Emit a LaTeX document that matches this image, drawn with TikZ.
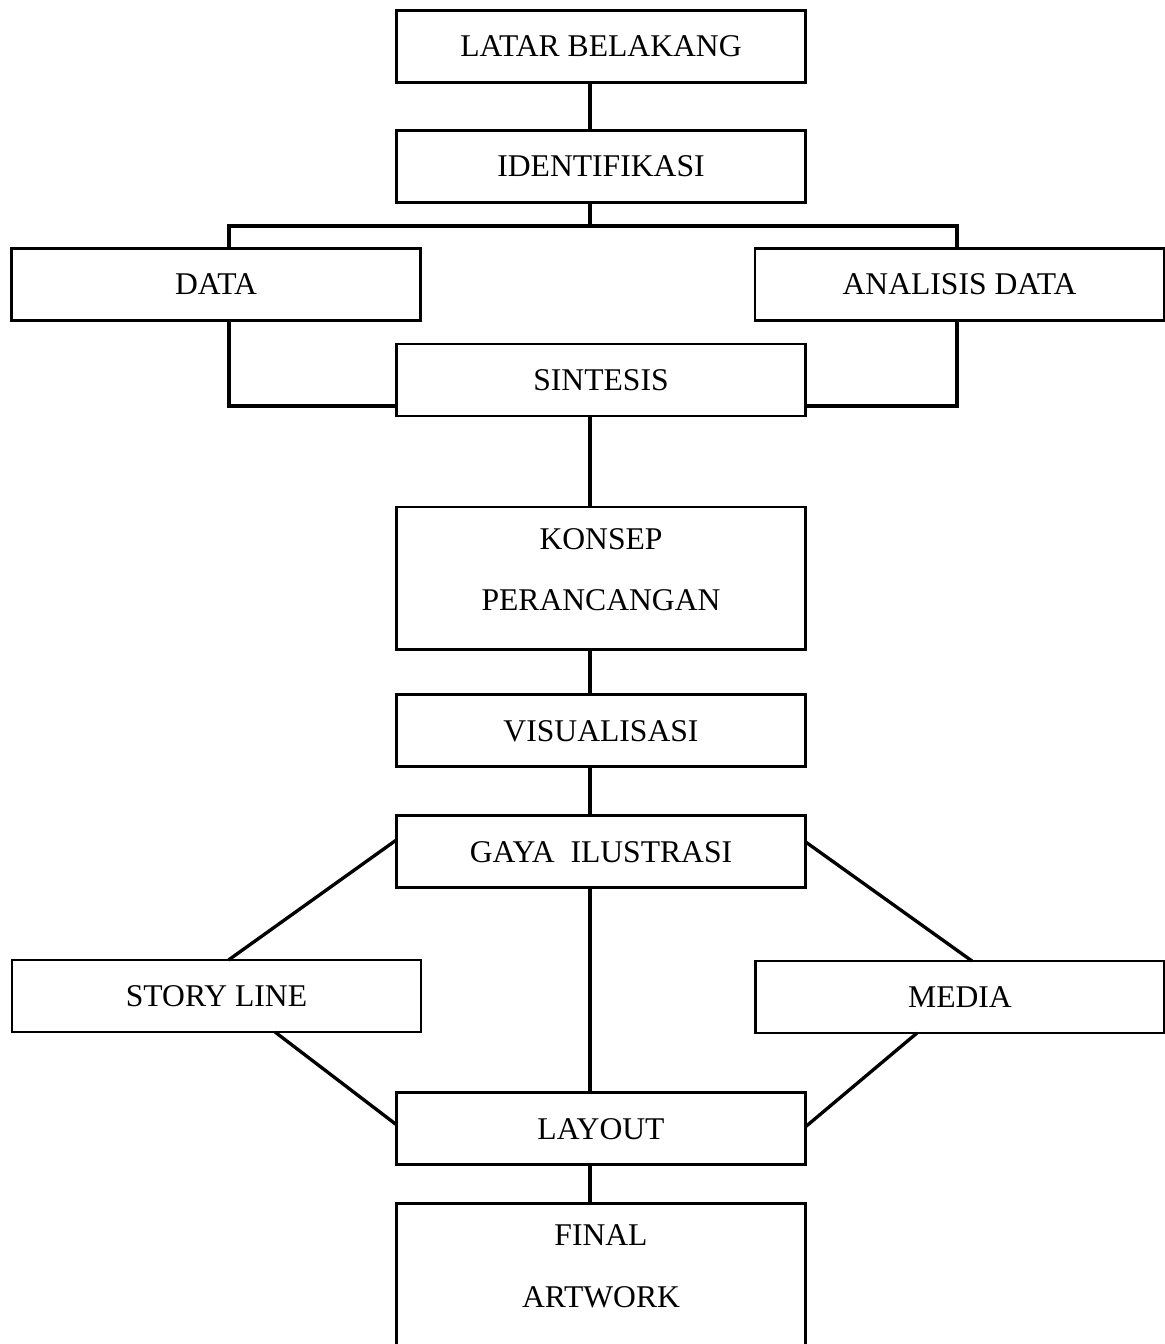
\documentclass[tikz,border=0pt]{standalone}
\usepackage{fontspec}
\setmainfont{Liberation Serif}
\usetikzlibrary{positioning, calc}

\begin{document}
\begin{tikzpicture}[x=0.02cm, y=0.02cm]

% Estilos
\tikzset{
    box/.style={rectangle, draw, line width=1.6pt, outer sep=0pt, minimum width=8.18cm, minimum height=1.44cm, inner sep=0pt, align=center, font=\fontsize{18}{35}\selectfont},
    tallbox/.style={box, minimum height=2.86cm, text depth=0.36cm},
    link/.style={line width=1.9pt}
}

\useasboundingbox (0,0) rectangle (1165,-1344);

% Nós
\node (latar) [box] at (601,-46.5) {LATAR BELAKANG};
\node (ident) [box, below=0.96cm of latar] {IDENTIFIKASI};
\node (data) [box] at (216,-284.5) {DATA};
\node (analisis) [box] at (959.5,-284.5) {ANALISIS DATA};
\node (sintesis) [box, below=2.83cm of ident] {SINTESIS};
\node (konsep) [tallbox, below=1.82cm of sintesis] {KONSEP\\PERANCANGAN};
\node (visual) [box, below=0.9cm of konsep] {VISUALISASI};
\node (gaya) [box, below=0.98cm of visual] {GAYA\ \ ILUSTRASI};
\node (story) [box] at (216.5,-996) {STORY LINE};
\node (media) [box] at (960,-997) {MEDIA};
\node (layout) [box, below=4.1cm of gaya] {LAYOUT};
\node (final) [tallbox, below=0.78cm of layout] {FINAL\\ARTWORK};

\coordinate (spine) at (590,0);
\coordinate (fork) at (590,-226);

% Garis
\draw [link] (latar.south -| spine) -- (ident.north -| spine);
\draw [link] (ident.south -| spine) -- (fork);
\draw [link, line width=2.2pt] ($(data.north)+(13,0)$) |- (fork) -| ($(analisis.north)+(-2.5,0)$);
\draw [link, line width=2.2pt] ($(data.south)+(13,0)$) |- ($(sintesis.south west)+(0,10)$);
\draw [link, line width=2.2pt] ($(analisis.south)+(-2.5,0)$) |- ($(sintesis.south east)+(0,10)$);
\draw [link] (sintesis.south -| spine) -- (konsep.north -| spine);
\draw [link] (konsep.south -| spine) -- (visual.north -| spine);
\draw [link] (visual.south -| spine) -- (gaya.north -| spine);
\draw [link] (gaya.south -| spine) -- (layout.north -| spine);
\draw [link] (layout.south -| spine) -- (final.north -| spine);
\draw [link] ($(gaya.west)+(0,12)$) -- ($(story.north)+(12,0)$);
\draw [link] ($(gaya.east)+(0,10)$) -- ($(media.north)+(12,0)$);
\draw [link] ($(story.south)+(58.5,0)$) -- ($(layout.west)+(0,4)$);
\draw [link] ($(media.south)+(-43,0)$) -- ($(layout.east)+(0,2)$);

\end{tikzpicture}
\end{document}
